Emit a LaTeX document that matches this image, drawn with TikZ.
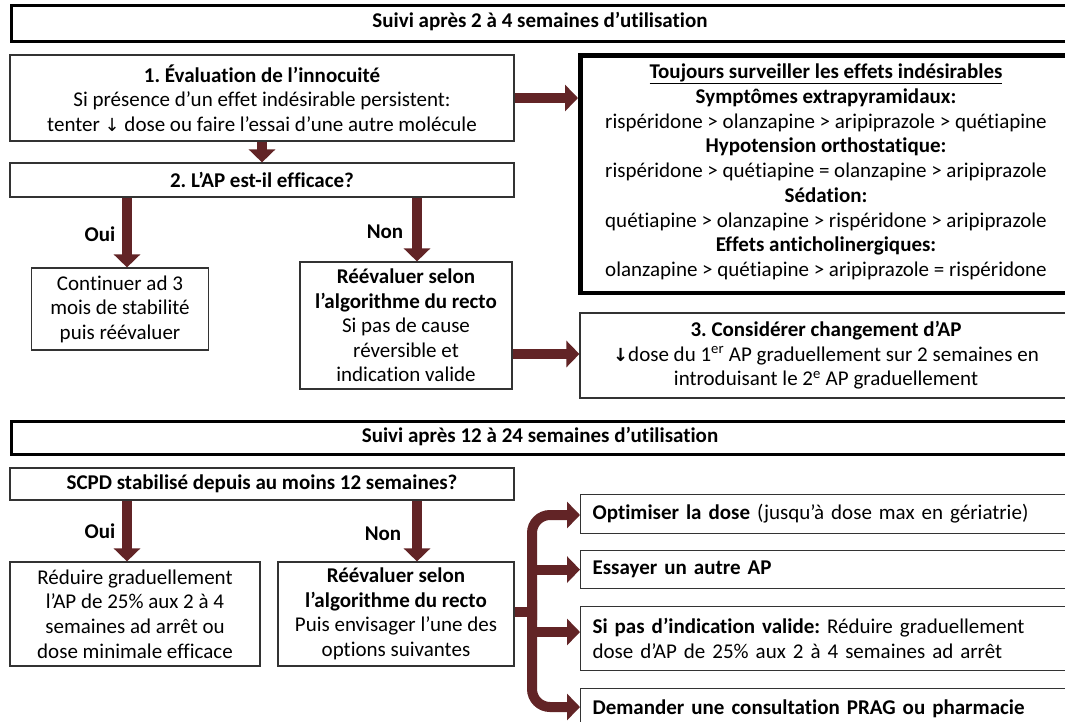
\documentclass[tikz,border=0pt]{standalone}
\usepackage{fontspec}
\setmainfont{Carlito}[Ligatures={NoCommon}]
\newfontfamily\djv{DejaVu Sans}
\usetikzlibrary{arrows.meta,calc}
\definecolor{maroon}{RGB}{98,36,38}
\frenchspacing
\begin{document}
\begin{tikzpicture}[x=1pt,y=-1pt,
  every node/.style={font=\fontsize{21}{24.6}\selectfont},
  box/.style={draw=black!80,line width=1.2pt,fill=white,align=center,inner sep=0pt},
  hdr/.style={draw=black,line width=3pt,fill=white,inner sep=0pt},
  arr/.style={maroon,line width=10pt,-{Triangle[width=26pt,length=13pt]}},
  lbl/.style={font=\fontsize{21}{24}\selectfont\bfseries}]
\useasboundingbox (0,0) rectangle (1065,721);
\clip (0,0) rectangle (1065,721);
\fill[white] (0,0) rectangle (1065,721);
% header 1
\node[hdr,minimum width=1070pt,minimum height=36pt,anchor=north west] (h1) at (10,4) {};
\node[font=\fontsize{21}{24}\selectfont\bfseries] (h1t) at (540,22) {Suivi après 2 à 4 semaines d’utilisation};
% box 1
\node[box,minimum width=504pt,minimum height=86pt] (b1) at (262,98)
 {\textbf{1. Évaluation de l’innocuité}\\Si présence d’un effet indésirable persistent:\\tenter {\djv\fontsize{18}{20}\selectfont↓} dose ou faire l’essai d’une autre molécule};
% box 2
\node[box,minimum width=504pt,minimum height=34pt] (b2) at (262,180) {\textbf{2. L’AP est-il efficace?}};
% right box
\node[draw=black,line width=4pt,fill=white,minimum width=492pt,minimum height=238pt,inner sep=0pt] (r) at (826,174) {};
\draw[black,line width=1pt] ($(r.north west)+(4,4)$) rectangle ($(r.south east)+(-4,-4)$);
\node[align=center,font=\fontsize{21}{24.75}\selectfont] (rt) at (826,172)
 {\textbf{\underline{Toujours surveiller les effets indésirables}}\\
  \textbf{Symptômes extrapyramidaux:}\\
  rispéridone > olanzapine > aripiprazole > quétiapine\\
  \textbf{Hypotension orthostatique:}\\
  rispéridone > quétiapine = olanzapine > aripiprazole\\
  \textbf{Sédation:}\\
  quétiapine > olanzapine > rispéridone > aripiprazole\\
  \textbf{Effets anticholinergiques:}\\
  olanzapine > quétiapine > aripiprazole = rispéridone};
% continuer
\node[box,minimum width=177pt,minimum height=82pt] (c) at (120,309)
 {Continuer ad 3\\mois de stabilité\\puis réévaluer};
% reevaluer 1
\node[box,minimum width=212pt,minimum height=127pt] (re1) at (406,325.5)
 {\textbf{Réévaluer selon}\\\textbf{l’algorithme du recto}\\Si pas de cause\\réversible et\\indication valide};
% box 3
\node[box,minimum width=492pt,minimum height=85pt] (b3) at (826,355.5)
 {\textbf{3. Considérer changement d’AP}\\{\djv\bfseries\fontsize{18}{20}\selectfont↓}dose du 1\textsuperscript{er} AP graduellement sur 2 semaines en\\introduisant le 2\textsuperscript{e} AP graduellement};
% header 2
\node[hdr,minimum width=1070pt,minimum height=33pt,anchor=north west] (h2) at (10,420) {};
\node[font=\fontsize{21}{24}\selectfont\bfseries] (h2t) at (540,437) {Suivi après 12 à 24 semaines d’utilisation};
% SCPD
\node[box,minimum width=504pt,minimum height=32pt] (s) at (262,484) {\textbf{SCPD stabilisé depuis au moins 12 semaines?}};
% reduire
\node[box,minimum width=250pt,minimum height=104pt] (rd) at (135,614)
 {Réduire graduellement\\l’AP de 25\% aux 2 à 4\\semaines ad arrêt ou\\dose minimale efficace};
% reevaluer 2
\node[box,minimum width=236pt,minimum height=104pt] (re2) at (396,614)
 {\textbf{Réévaluer selon}\\\textbf{l’algorithme du recto}\\Puis envisager l’une des\\options suivantes};
% options
\node[box,minimum width=495pt,minimum height=39pt,text width=471pt,align=left,inner xsep=12pt,anchor=north west] (o1) at (580,494)
 {\textbf{Optimiser la dose} (jusqu’à dose max en gériatrie)};
\node[box,minimum width=495pt,minimum height=38pt,text width=471pt,align=left,inner xsep=12pt,anchor=north west] (o2) at (580,550)
 {\textbf{Essayer un autre AP}};
\node[box,minimum width=495pt,minimum height=64pt,text width=471pt,align=left,inner xsep=12pt,anchor=north west] (o3) at (580,606)
 {\textbf{Si pas d’indication valide:} Réduire graduellement\\dose d’AP de 25\% aux 2 à 4 semaines ad arrêt};
\node[box,minimum width=495pt,minimum height=40pt,text width=471pt,align=left,inner xsep=12pt,anchor=north west] (o4) at (580,688)
 {\textbf{Demander une consultation PRAG ou pharmacie}};
% arrows top section
\draw[arr] (b1.east) -- (r.west |- b1.east);
\draw[arr] (b1.south) -- (b2.north);
\coordinate (ouix) at (127,0);
\coordinate (nonx) at (417,0);
\draw[arr] (b2.south -| ouix) -- (c.north -| ouix);
\draw[arr] (b2.south -| nonx) -- (re1.north -| nonx);
\node[lbl] (oui1) at (100,234) {Oui};
\node[lbl] (non1) at (385,232) {Non};
\coordinate (a3y) at (0,354);
\draw[arr] (re1.east |- a3y) -- (b3.west |- a3y);
% arrows bottom section
\draw[arr] (s.south -| ouix) -- (rd.north -| ouix);
\draw[arr] (s.south -| nonx) -- (re2.north -| nonx);
\node[lbl] (oui2) at (100,531) {Oui};
\node[lbl] (non2) at (383,534) {Non};
% bracket
\coordinate (bx) at (532,612);
\draw[maroon,line width=10pt] (re2.east |- bx) -- (bx);
\draw[maroon,line width=10pt,rounded corners=18pt,-{Triangle[width=26pt,length=13pt]}]
  (bx |- 0,620) -- (bx |- 0,515) -- (o1.west |- 0,515);
\draw[maroon,line width=10pt,rounded corners=18pt,-{Triangle[width=26pt,length=13pt]}]
  (bx |- 0,600) -- (bx |- 0,707) -- (o4.west |- 0,707);
\draw[arr] (bx |- o2.west) -- (o2.west);
\draw[arr] (bx |- 0,632) -- (o3.west |- 0,632);
\end{tikzpicture}
\end{document}
